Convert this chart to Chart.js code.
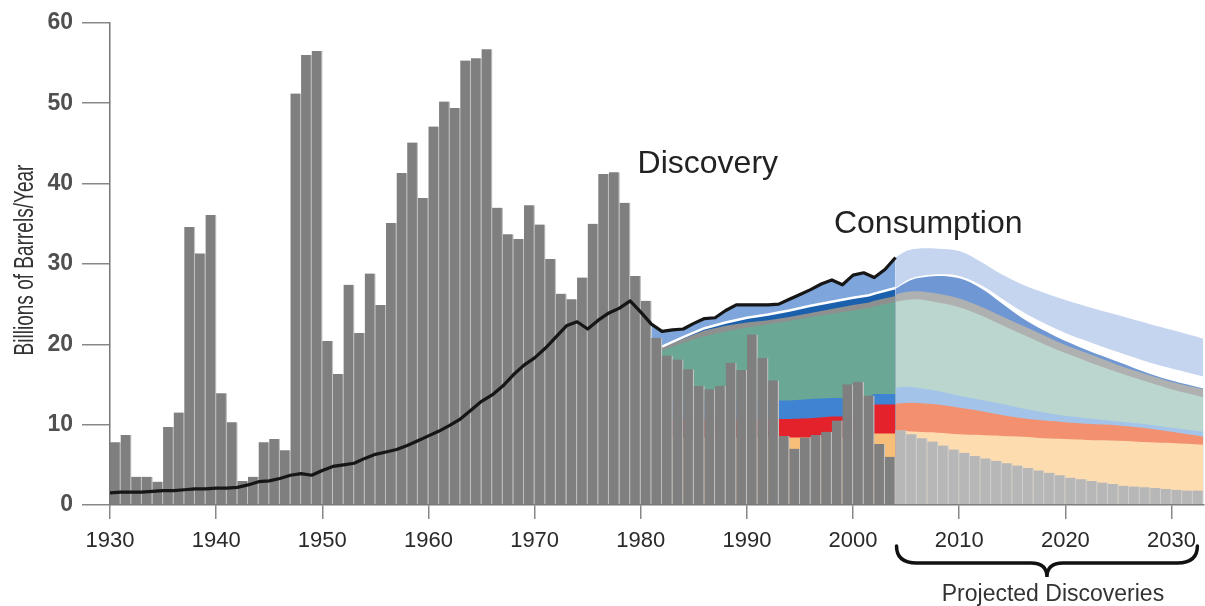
<!DOCTYPE html>
<html>
<head>
<meta charset="utf-8">
<script src="https://cdn.jsdelivr.net/npm/chart.js@4.4.1/dist/chart.umd.min.js"></script>
<style>
  html, body { margin: 0; padding: 0; background: #fff; }
  canvas { display: block; }
</style>
</head>
<body>
<canvas id="myChart" width="1205" height="606"></canvas>
<script>
// yearly discoveries, 1930-2003 (billions of barrels)
var discoveryStart = 1930;
var discovery = [7.8, 8.7, 3.5, 3.5, 2.9, 9.7, 11.5, 34.6, 31.3, 36.1,
  13.9, 10.3, 3.0, 3.5, 7.8, 8.2, 6.8, 51.2, 56.0, 56.5,
  20.4, 16.3, 27.4, 21.4, 28.8, 24.9, 35.1, 41.3, 45.1, 38.2,
  47.1, 50.2, 49.4, 55.3, 55.6, 56.7, 37.0, 33.7, 33.1, 37.3,
  34.9, 30.6, 26.3, 25.6, 28.3, 35.0, 41.2, 41.4, 37.6, 28.5,
  25.4, 20.8, 18.6, 18.1, 16.9, 14.8, 14.4, 14.8, 17.7, 16.8,
  21.2, 18.3, 15.5, 8.6, 7.0, 8.4, 8.7, 9.1, 10.5, 15.0,
  15.3, 13.6, 7.6, 6.0];

// projected discoveries, 2004-2032
var projectedStart = 2004;
var projected = [9.3, 8.8, 8.3, 7.9, 7.4, 6.9, 6.5, 6.1, 5.8, 5.5,
  5.2, 4.9, 4.6, 4.3, 4.0, 3.7, 3.4, 3.2, 3.0, 2.8,
  2.6, 2.4, 2.3, 2.2, 2.1, 2.0, 1.9, 1.8, 1.8];

// consumption, 1930-2004
var consumptionStart = 1930;
var consumption = [1.5, 1.6, 1.6, 1.6, 1.7, 1.8, 1.8, 1.9, 2.0, 2.0,
  2.1, 2.1, 2.2, 2.5, 2.9, 3.0, 3.3, 3.7, 3.9, 3.7,
  4.3, 4.8, 5.0, 5.2, 5.8, 6.3, 6.6, 6.9, 7.4, 8.0,
  8.6, 9.2, 9.9, 10.7, 11.8, 12.9, 13.7, 14.8, 16.2, 17.4,
  18.3, 19.5, 20.9, 22.3, 22.8, 21.9, 23.0, 23.9, 24.5, 25.4,
  24.0, 22.5, 21.6, 21.8, 21.9, 22.6, 23.2, 23.3, 24.2, 24.9,
  24.9, 24.9, 24.9, 25.0, 25.6, 26.2, 26.8, 27.5, 28.0, 27.4,
  28.6, 28.9, 28.3, 29.3, 30.8];

// supply bands behind the bars, 1982-2004 (top edge of each band)
var histYears  = [1982, 1984, 1986, 1988, 1990, 1992, 1994, 1996, 1998, 2000, 2001.5, 2002, 2004];
var whiteLineH = [19.7, 20.9, 22.0, 22.7, 23.3, 23.7, 24.2, 24.8, 25.3, 25.8, 26.1, 26.3, 27.0];
var grayTopH   = [19.6, 20.7, 21.7, 22.3, 22.7, 23.0, 23.4, 23.9, 24.4, 24.9, 25.2, 25.4, 26.0];
var tealTopH   = [19.2, 20.2, 21.0, 21.6, 22.1, 22.5, 22.9, 23.4, 23.8, 24.2, 24.5, 24.7, 25.3];
var blueTopH   = [13.0, 13.0, 13.0, 13.0, 13.0, 13.0, 13.0, 13.2, 13.3, 13.3, 13.5, 13.8, 13.8];
var redTopH    = [10.7, 10.7, 10.7, 10.7, 10.7, 10.7, 10.7, 10.8, 11.0, 11.0, 11.0, 12.5, 12.5];
var orangeTopH = [8.4, 8.4, 8.4, 8.4, 8.4, 8.4, 8.4, 8.4, 8.4, 8.4, 8.4, 8.9, 8.9];

// projected bands, 2004-2033 (top edge of each band)
var projYears   = [2004, 2005, 2006, 2008, 2010, 2012, 2014, 2016, 2018, 2020, 2022, 2025, 2028, 2030, 2033];
var lavTopP     = [30.8, 31.6, 31.9, 31.9, 31.6, 30.3, 28.7, 27.4, 26.4, 25.5, 24.7, 23.6, 22.5, 21.8, 20.7];
var whiteTopP   = [27.0, 27.9, 28.4, 28.7, 28.5, 27.4, 25.7, 24.0, 22.6, 21.4, 20.4, 19.0, 17.7, 17.0, 16.0];
var medBlueTopP = [26.9, 27.7, 28.2, 28.5, 28.2, 27.0, 25.1, 23.2, 21.7, 20.4, 19.3, 17.8, 16.3, 15.5, 14.5];
var grayTopP    = [26.2, 26.5, 26.6, 26.3, 25.7, 24.7, 23.5, 22.3, 21.1, 19.9, 18.9, 17.4, 16.1, 15.3, 14.4];
var tealTopP    = [25.3, 25.5, 25.6, 25.2, 24.6, 23.6, 22.4, 21.2, 20.0, 18.9, 17.9, 16.5, 15.2, 14.4, 13.4];
var lbTopP      = [14.6, 14.7, 14.6, 14.2, 13.6, 13.1, 12.6, 12.0, 11.5, 11.1, 10.8, 10.4, 10.0, 9.6, 9.1];
var salmonTopP  = [12.6, 12.7, 12.7, 12.5, 12.1, 11.7, 11.2, 10.8, 10.5, 10.3, 10.1, 9.9, 9.5, 9.1, 8.5];
var peachTopP   = [9.3, 9.2, 9.1, 9.0, 8.8, 8.7, 8.6, 8.5, 8.3, 8.2, 8.1, 8.0, 7.8, 7.7, 7.5];

var xTicks = [1930, 1940, 1950, 1960, 1970, 1980, 1990, 2000, 2010, 2020, 2030];

function pts(xs, ys) {
  return ys.map(function (v, i) { return { x: xs[i], y: v }; });
}
function yearly(start, ys, shift) {
  return ys.map(function (v, i) { return { x: start + i + shift, y: v }; });
}

var barData = yearly(discoveryStart, discovery, 0.5).concat(yearly(projectedStart, projected, 0.5));
var consData = yearly(consumptionStart, consumption, 0);
var consTail = consData.filter(function (p) { return p.x >= 1981; });

function band(data, color, order, tension) {
  return {
    type: 'line', data: data, backgroundColor: color, borderWidth: 0,
    pointRadius: 0, fill: { value: 0.3 }, order: order, tension: tension || 0
  };
}
function isProjected(c) { return c.raw && c.raw.x > 2004; }

var datasets = [
  { type: 'line', label: 'Consumption', data: consData, borderColor: '#161616', borderWidth: 3.2,
    pointRadius: 0, fill: false, order: 0, borderJoinStyle: 'round' },
  { type: 'bar', label: 'Discovery', data: barData,
    backgroundColor: function (c) { return isProjected(c) ? '#b7b7b7' : '#7f7f80'; },
    borderColor: function (c) { return isProjected(c) ? '#cfcfcf' : '#c2c2c2'; },
    borderWidth: { top: 0, bottom: 0, left: 0, right: 1.3 },
    borderSkipped: false,
    barPercentage: 1, categoryPercentage: 1, order: 1 },
  { type: 'line', data: pts(histYears, whiteLineH), borderColor: '#ffffff', borderWidth: 2.5,
    pointRadius: 0, fill: false, order: 2 },

  band(consTail, '#7ea6dc', 30),
  band(pts(histYears, whiteLineH), '#1b60ad', 29),
  band(pts(histYears, grayTopH), '#8e9090', 28),
  band(pts(histYears, tealTopH), '#6aa795', 27),
  band(pts(histYears, blueTopH), '#3f84d2', 26),
  band(pts(histYears, redTopH), '#e3222b', 25),
  band(pts(histYears, orangeTopH), '#f7be7a', 24),

  band(pts(projYears, lavTopP), '#c6d5ef', 30, 0.35),
  band(pts(projYears, whiteTopP), '#ffffff', 29, 0.35),
  band(pts(projYears, medBlueTopP), '#6f97d3', 28, 0.35),
  band(pts(projYears, grayTopP), '#afb1b1', 27, 0.35),
  band(pts(projYears, tealTopP), '#bad6cf', 26, 0.35),
  band(pts(projYears, lbTopP), '#a3c4e8', 25, 0.35),
  band(pts(projYears, salmonTopP), '#f3906f', 24, 0.35),
  band(pts(projYears, peachTopP), '#fddcb0', 23, 0.35)
];

var annotations = {
  id: 'annotations',
  afterDraw: function (chart) {
    var ctx = chart.ctx, x = chart.scales.x, y = chart.scales.y;
    ctx.save();
    ctx.fillStyle = '#222';
    ctx.textBaseline = 'alphabetic';
    ctx.font = "32px 'Liberation Sans', Arial, sans-serif";
    ctx.textAlign = 'left';
    ctx.fillText('Discovery', x.getPixelForValue(1979.7), y.getPixelForValue(41.3));
    ctx.fillText('Consumption', x.getPixelForValue(1998.2), y.getPixelForValue(33.8));

    // axis title, condensed
    ctx.save();
    ctx.translate(33, 260);
    ctx.rotate(-Math.PI / 2);
    ctx.scale(0.68, 1);
    ctx.textAlign = 'center';
    ctx.fillStyle = '#333';
    ctx.font = "28px 'Liberation Sans', Arial, sans-serif";
    ctx.fillText('Billions of Barrels/Year', 0, 0);
    ctx.restore();

    // brace under the projected years
    var x0 = x.getPixelForValue(2004) + 1, x1 = x.right - 6, xm = (x0 + x1) / 2;
    var yTop = 546, yMid = 563, yTip = 577;
    ctx.beginPath();
    ctx.moveTo(x0, yTop);
    ctx.quadraticCurveTo(x0, yMid, x0 + 20, yMid);
    ctx.lineTo(xm - 16, yMid);
    ctx.quadraticCurveTo(xm, yMid, xm, yTip);
    ctx.quadraticCurveTo(xm, yMid, xm + 16, yMid);
    ctx.lineTo(x1 - 20, yMid);
    ctx.quadraticCurveTo(x1, yMid, x1, yTop);
    ctx.lineWidth = 3.5;
    ctx.strokeStyle = '#111';
    ctx.lineCap = 'round';
    ctx.stroke();

    ctx.textAlign = 'center';
    ctx.fillStyle = '#333';
    ctx.font = "23px 'Liberation Sans', Arial, sans-serif";
    ctx.fillText('Projected Discoveries', xm + 6, 601);
    ctx.restore();
  }
};

Chart.defaults.font.family = "'Liberation Sans', Arial, sans-serif";

var ctx = document.getElementById('myChart').getContext('2d');
var chart = new Chart(ctx, {
  type: 'line',
  data: { datasets: datasets },
  options: {
    responsive: false,
    animation: false,
    devicePixelRatio: 1,
    layout: { padding: { top: 20, right: 0, bottom: 0, left: 0 } },
    plugins: { legend: { display: false }, tooltip: { enabled: false } },
    scales: {
      x: {
        type: 'linear', min: 1930, max: 2033, offset: false,
        afterBuildTicks: function (s) { s.ticks = xTicks.map(function (v) { return { value: v }; }); },
        afterFit: function (s) { s.height = 101; },
        ticks: { callback: function (v) { return String(v); }, font: { size: 22 }, color: '#2a2a2a',
                 padding: 9, maxRotation: 0, autoSkip: false },
        grid: { offset: false, drawOnChartArea: false, drawTicks: true, tickLength: 14, color: '#888', lineWidth: 1.5 },
        border: { display: true, color: '#777', width: 1.5 }
      },
      y: {
        min: 0, max: 60,
        afterFit: function (s) { s.width = 110; },
        ticks: { stepSize: 10, font: { size: 23, weight: 'bold' }, color: '#505050', padding: 9 },
        grid: { drawOnChartArea: false, drawTicks: true, tickLength: 28, color: '#888', lineWidth: 1.5 },
        border: { display: true, color: '#777', width: 1.5 }
      }
    }
  },
  plugins: [annotations]
});
</script>
</body>
</html>
